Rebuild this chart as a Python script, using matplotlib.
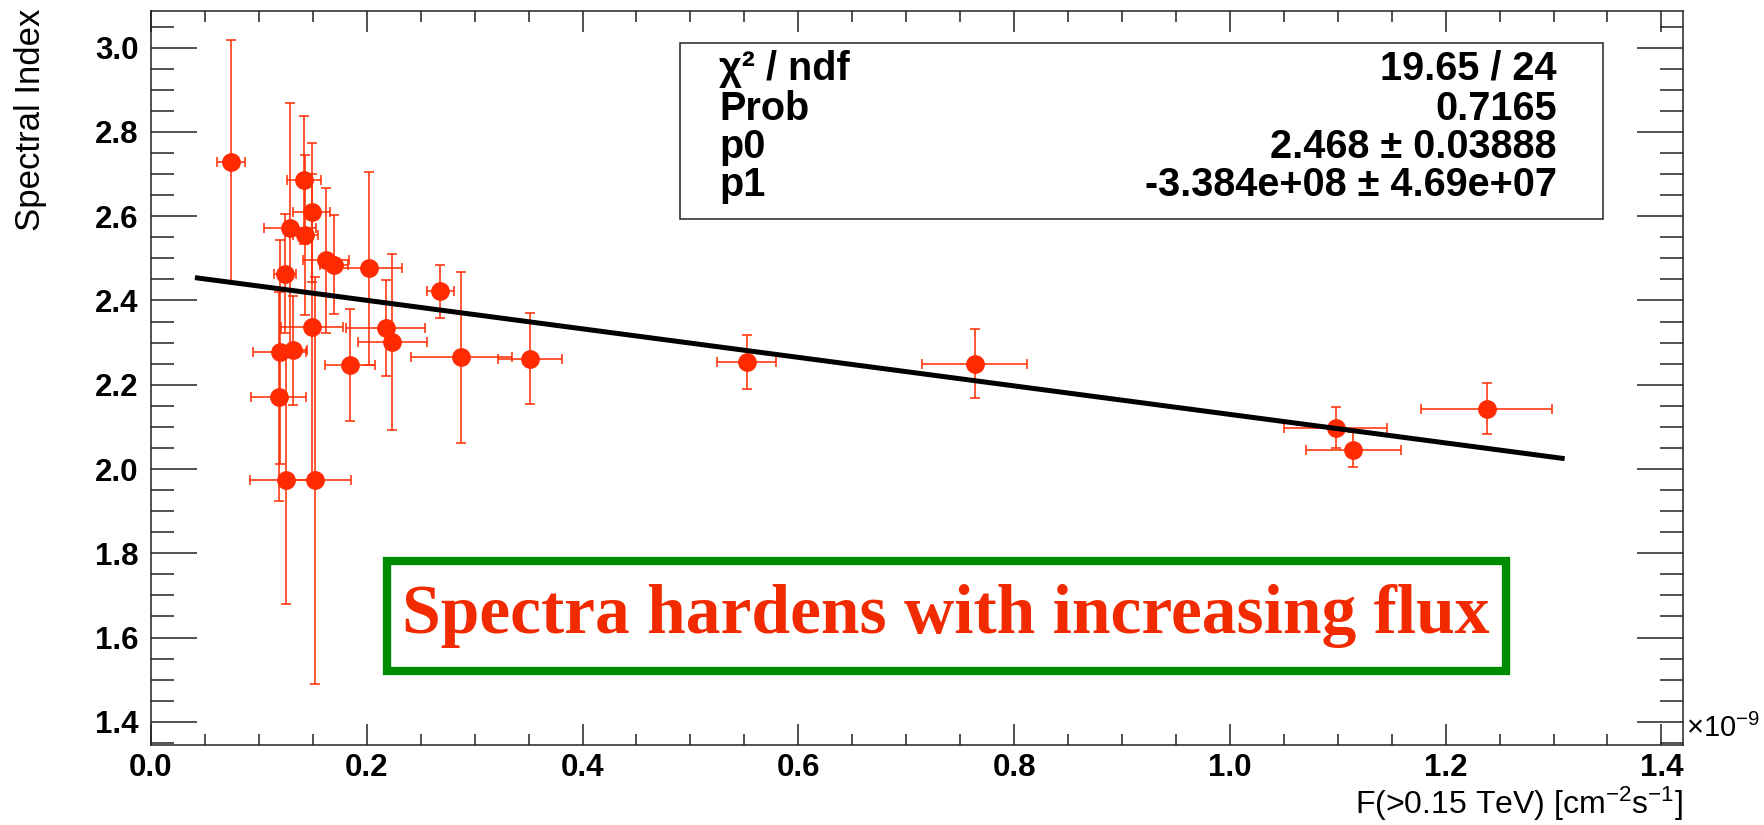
import numpy as np
import matplotlib
matplotlib.use("Agg")
import matplotlib.pyplot as plt
from matplotlib.patches import Rectangle
from matplotlib.ticker import MultipleLocator, FormatStrFormatter

# flux in units of 1e-9 cm^-2 s^-1
flux = [0.0744, 0.1417, 0.1488, 0.1287, 0.1432, 0.1240, 0.1620, 0.1699, 0.2025,
        0.2682, 0.1494, 0.2177, 0.2236, 0.1193, 0.1315, 0.1847, 0.2877, 0.3513,
        0.1183, 0.1250, 0.1520, 0.5520, 0.7634, 1.0980, 1.1144, 1.2380]
flux_err = [0.0129, 0.0155, 0.0172, 0.0238, 0.0113, 0.0104, 0.0212, 0.0130, 0.0302,
            0.0126, 0.0288, 0.0366, 0.0320, 0.0248, 0.0133, 0.0233, 0.0470, 0.0298,
            0.0252, 0.0336, 0.0330, 0.0276, 0.0484, 0.0476, 0.0442, 0.0610]
index = [2.729, 2.685, 2.609, 2.573, 2.556, 2.464, 2.495, 2.485, 2.476,
         2.422, 2.337, 2.334, 2.301, 2.278, 2.282, 2.246, 2.265, 2.262,
         2.171, 1.973, 1.973, 2.254, 2.250, 2.098, 2.046, 2.1435]
index_err = [0.288, 0.152, 0.164, 0.296, 0.190, 0.141, 0.173, 0.118, 0.230,
             0.0625, 0.362, 0.114, 0.209, 0.266, 0.129, 0.133, 0.203, 0.108,
             0.248, 0.293, 0.483, 0.063, 0.082, 0.048, 0.0416, 0.0606]

# linear fit result
p0, p1 = 2.468, -3.384e8
fit_range = (0.043, 1.308)

stat_names = ["χ² / ndf", "Prob", "p0", "p1"]
stat_values = ["19.65 / 24", "0.7165", "2.468 ± 0.03888", "-3.384e+08 ± 4.69e+07"]

W, H = 1765, 825
plt.rcParams['font.family'] = ['Liberation Sans', 'DejaVu Sans']
plt.rcParams['mathtext.fontset'] = 'custom'
plt.rcParams['mathtext.rm'] = 'Liberation Sans'
plt.rcParams['mathtext.it'] = 'Liberation Sans:italic'
plt.rcParams['mathtext.bf'] = 'Liberation Sans:bold'


def fx(x):
    return x / W


def fy(y):
    return 1 - y / H


fig = plt.figure(figsize=(W / 100, H / 100), dpi=100)
ax = fig.add_axes([fx(151), fy(745), (1683 - 151) / W, (745 - 11) / H])

red = "#ff2a00"
ax.errorbar(flux, index, xerr=flux_err, yerr=index_err, fmt="o", color=red,
            ms=12.5, elinewidth=1.1, capsize=3.6, capthick=1.1, zorder=3)

xf = np.linspace(*fit_range, 200)
ax.plot(xf, p0 + p1 * xf * 1e-9, color="black", lw=3.6, zorder=4)

ax.set_xlim(0, 1.42)
ax.set_ylim(1.345, 3.087)
ax.xaxis.set_major_locator(MultipleLocator(0.2))
ax.xaxis.set_minor_locator(MultipleLocator(0.05))
ax.yaxis.set_major_locator(MultipleLocator(0.2))
ax.yaxis.set_minor_locator(MultipleLocator(0.05))
ax.xaxis.set_major_formatter(FormatStrFormatter("%.1f"))
ax.yaxis.set_major_formatter(FormatStrFormatter("%.1f"))

ax.tick_params(which="both", direction="in", top=True, right=True, width=1.1,
               labelsize=22.5, colors="#222222")
ax.tick_params(axis="x", which="major", length=15, pad=6)
ax.tick_params(axis="x", which="minor", length=8)
ax.tick_params(axis="y", which="major", length=33, pad=9)
ax.tick_params(axis="y", which="minor", length=16.5)
for lbl in ax.get_xticklabels() + ax.get_yticklabels():
    lbl.set_fontweight("bold")
    lbl.set_color("black")
for s in ax.spines.values():
    s.set_linewidth(1.1)
    s.set_color("#222222")

# axis titles
fig.text(fx(1683), fy(823), r"F(>0.15 TeV) [cm$^{-2}$s$^{-1}$]", ha="right",
         va="bottom", fontsize=23)
fig.text(fx(31), fy(9), "Spectral Index", rotation=90, ha="center", va="top",
         fontsize=25)
fig.text(fx(1686), fy(743), r"×10$^{-9}$", ha="left", va="bottom", fontsize=21)

# fit statistics box
fig.patches.append(Rectangle((fx(680), fy(219)), (1603 - 680) / W, (219 - 43) / H,
                             transform=fig.transFigure, facecolor="white",
                             edgecolor="#222222", lw=1.1, zorder=5))
row_y = [69, 109, 147, 185]
for name, val, ry in zip(stat_names, stat_values, row_y):
    fig.text(fx(719), fy(ry), name, ha="left", va="center", fontsize=28.5,
             fontweight="bold", zorder=6)
    fig.text(fx(1557), fy(ry), val, ha="right", va="center", fontsize=28.5,
             fontweight="bold", zorder=6)

# annotation
fig.patches.append(Rectangle((fx(387), fy(671)), (1506 - 387) / W, (671 - 561) / H,
                             transform=fig.transFigure, facecolor="none",
                             edgecolor="#008c00", lw=6, zorder=5))
fig.text(fx(946), fy(616), "Spectra hardens with increasing flux", ha="center",
         va="center", fontsize=50, fontweight="bold", color="#f22a00",
         family=["Liberation Serif", "DejaVu Serif"], zorder=6)

fig.savefig("out.png", dpi=100)
